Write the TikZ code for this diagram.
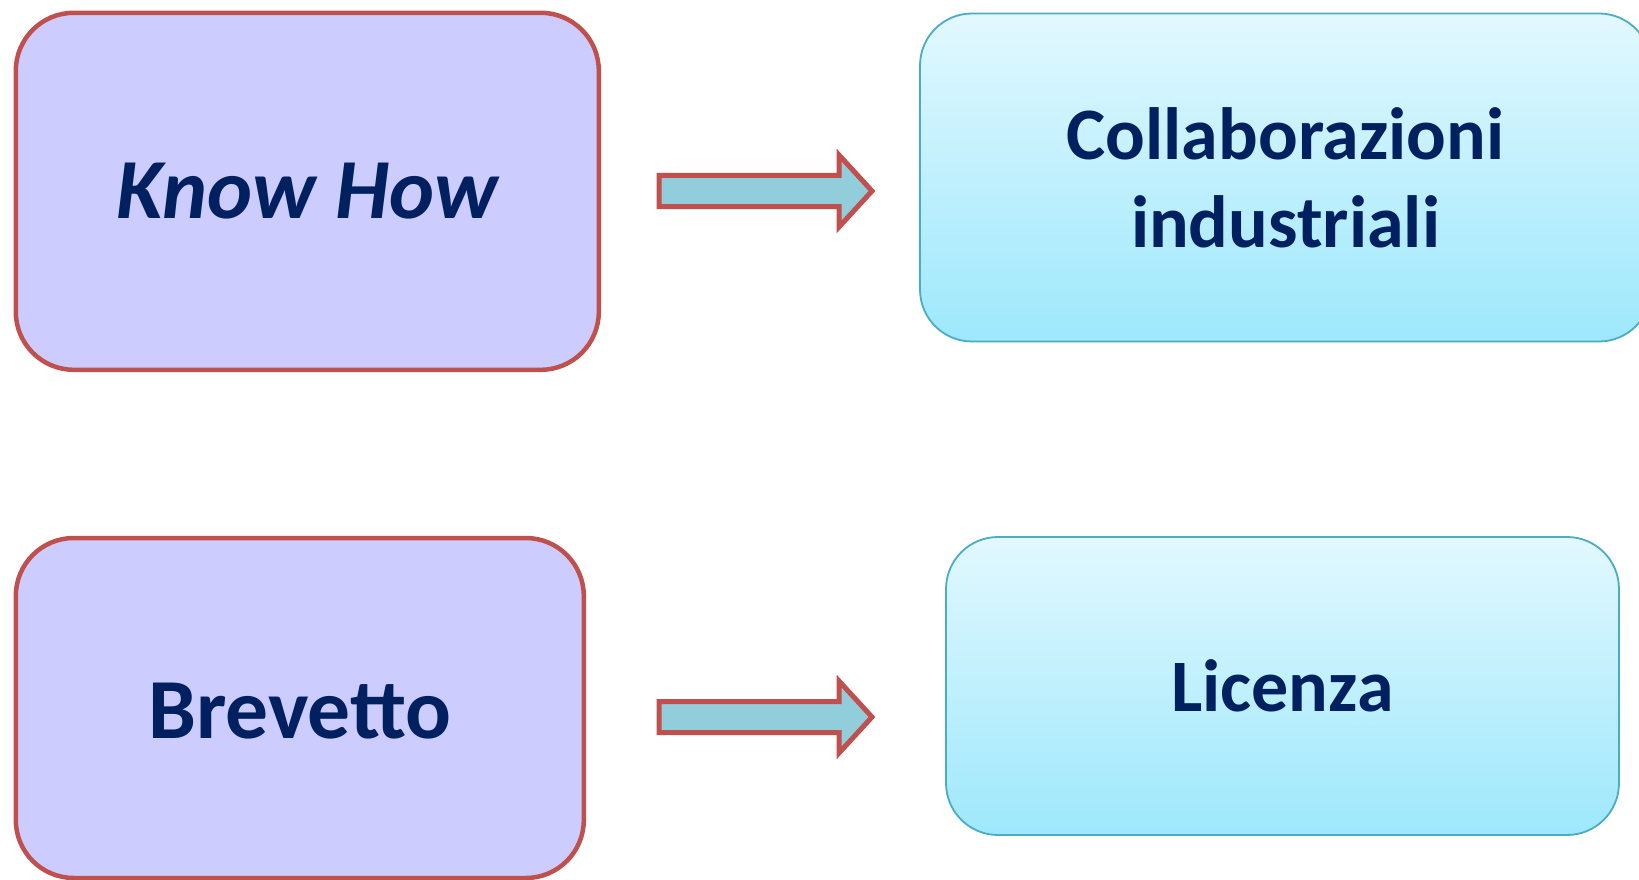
\documentclass[tikz,border=0pt]{standalone}
\usepackage{fontspec}
\setmainfont{Carlito}
\usetikzlibrary{calc}
\definecolor{navy}{HTML}{002060}
\definecolor{redline}{HTML}{C0504D}
\definecolor{lilac}{HTML}{CCCCFF}
\definecolor{cyanline}{HTML}{4BACC6}
\definecolor{cyantop}{HTML}{E2F8FE}
\definecolor{cyanbot}{HTML}{9EE8FC}
\definecolor{arrowfill}{HTML}{92CDDC}
\tikzset{
  leftbox/.style={draw=redline, line width=4.5pt, fill=lilac, rounded corners=58pt,
    text=navy, align=center, inner sep=0pt},
  rightbox/.style={draw=cyanline, line width=1.8pt, top color=cyantop, bottom color=cyanbot,
    rounded corners=52pt, text=navy, align=center, inner sep=0pt},
  blockarrow/.style={draw=redline, line width=5pt, fill=arrowfill, miter limit=10}
}
\begin{document}
\begin{tikzpicture}[x=1pt,y=-1pt]
\useasboundingbox (0,0) rectangle (1639,880);
\fill[white] (0,0) rectangle (1639,880);

\node[leftbox, minimum width=583pt, minimum height=357pt,
  font=\bfseries\itshape\fontsize{85.5}{100}\selectfont] (know) at (307.3,191.3) {Know How};
\node[rightbox, minimum width=731pt, minimum height=328pt,
  font=\bfseries\fontsize{74}{88}\selectfont] (collab) at (1285.5,177.5) {Collaborazioni\\industriali};
\node[leftbox, minimum width=568pt, minimum height=340pt,
  font=\bfseries\fontsize{85.5}{100}\selectfont] (brev) at (299.8,708)
  {\raisebox{-3pt}[\height][\depth]{Brevetto}};
\node[rightbox, minimum width=673pt, minimum height=298pt,
  font=\bfseries\fontsize{74}{90}\selectfont] (lic) at (1282.5,686) {Licenza};

% block arrows
\coordinate (a1) at (659,191);
\draw[blockarrow] ($(a1)+(0,-15.5)$) -- ++(180,0) -- ++(0,-20.5) -- ++(33,36) -- ++(-33,36) -- ++(0,-20.5) -- ++(-180,0) -- cycle;
\coordinate (a2) at (659,717);
\draw[blockarrow] ($(a2)+(0,-15.5)$) -- ++(180,0) -- ++(0,-20.5) -- ++(33,36) -- ++(-33,36) -- ++(0,-20.5) -- ++(-180,0) -- cycle;
\end{tikzpicture}
\end{document}
